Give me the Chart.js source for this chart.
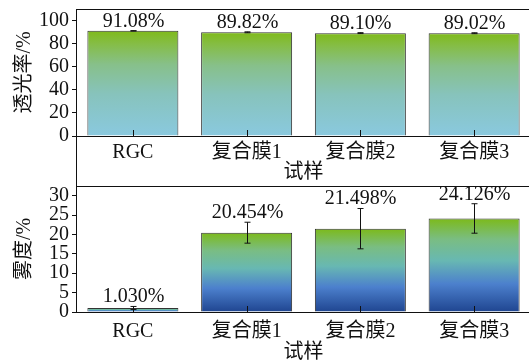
<!DOCTYPE html>
<html>
<head>
<meta charset="utf-8">
<script src="https://cdn.jsdelivr.net/npm/chart.js@4.4.1/dist/chart.umd.min.js"></script>
<style>
  html, body { margin: 0; padding: 0; background: #fff; overflow: hidden; }
  #wrap { position: relative; width: 529px; height: 363px; overflow: hidden; }
  canvas { position: absolute; left: 0; }
  #transChart { top: 0; }
  #hazeChart { top: 186px; }
</style>
</head>
<body>
<div id="wrap">
  <canvas id="transChart" width="535" height="186"></canvas>
  <canvas id="hazeChart" width="535" height="180"></canvas>
</div>
<script>
const samples = ["RGC", "复合膜1", "复合膜2", "复合膜3"];
const transmittance = [91.08, 89.82, 89.10, 89.02];
const transErr = [0.15, 0.4, 0.4, 0.4];
const transTicks = [0, 20, 40, 60, 80, 100];
const haze = [1.030, 20.454, 21.498, 24.126];
const hazeErr = [0.4, 2.7, 5.2, 3.8];
const hazeTicks = [0, 5, 10, 15, 20, 25, 30];

const FONT = '"Liberation Serif", "Times New Roman", "Noto Sans CJK SC", serif';
const INK = "#111";
Chart.defaults.font.family = FONT;
Chart.defaults.font.size = 20;
Chart.defaults.color = INK;

// vertical gradient from the bar top down to the baseline
const barGradient = (stops) => (ctx) => {
  const chart = ctx.chart;
  if (ctx.type !== "data" || !chart.chartArea) return stops[stops.length - 1][1];
  const y = chart.scales.y;
  const g = chart.ctx.createLinearGradient(0, y.getPixelForValue(ctx.raw), 0, y.getPixelForValue(0));
  stops.forEach(([o, c]) => g.addColorStop(o, c));
  return g;
};

const transStops = [[0, "#7fba1a"], [0.12, "#85bd45"], [0.32, "#87c08a"], [0.6, "#87c3bc"], [1, "#8ac9df"]];
const hazeStops = [[0, "#7cba1a"], [0.22, "#7abd82"], [0.45, "#68b8b2"], [0.7, "#4c80cd"], [1, "#1f4590"]];

// box edges, inward category ticks, error bars and value labels
const panelDecor = {
  id: "panelDecor",
  afterDatasetsDraw(chart, args, opts) {
    const { ctx, chartArea: a, scales: { x, y } } = chart;
    ctx.save();
    ctx.strokeStyle = INK;
    ctx.lineWidth = 1;
    ctx.beginPath();
    ctx.moveTo(a.left, a.top + 0.5);
    ctx.lineTo(chart.width, a.top + 0.5);
    ctx.moveTo(a.left + 0.5, a.top);
    ctx.lineTo(a.left + 0.5, opts.leftTo || a.bottom);
    ctx.stroke();

    ctx.font = "20px " + FONT;
    ctx.fillStyle = INK;
    ctx.textAlign = "center";
    ctx.textBaseline = "alphabetic";
    chart.data.datasets[0].data.forEach((v, i) => {
      const cx = Math.round(x.getPixelForValue(i)) + 0.5;
      ctx.beginPath();
      ctx.moveTo(cx, a.bottom);
      ctx.lineTo(cx, a.bottom - 6);
      const e = opts.err[i];
      const yt = y.getPixelForValue(v + e);
      const yb = y.getPixelForValue(v - e);
      ctx.moveTo(cx, yt); ctx.lineTo(cx, yb);
      ctx.moveTo(cx - 3, yt); ctx.lineTo(cx + 3, yt);
      ctx.moveTo(cx - 3, yb); ctx.lineTo(cx + 3, yb);
      ctx.stroke();
      ctx.fillText(opts.labels[i], cx, yt - 4);
    });
    ctx.restore();
  },
};

const makePanel = (canvas, values, err, digits, yMax, yTicks, yTitle, stops, xHeight, padTop, tickPad, leftTo) =>
  new Chart(canvas, {
    type: "bar",
    data: {
      labels: samples,
      datasets: [{
        data: values,
        backgroundColor: barGradient(stops),
        borderColor: "#333",
        borderWidth: 1,
        barPercentage: 0.8,
        categoryPercentage: 1,
      }],
    },
    plugins: [panelDecor],
    options: {
      responsive: false,
      animation: false,
      layout: { padding: { top: padTop, right: 4, left: 0, bottom: 0 } },
      plugins: {
        legend: { display: false },
        tooltip: { enabled: false },
        panelDecor: { err, labels: values.map((v) => v.toFixed(digits) + "%"), leftTo },
      },
      scales: {
        x: {
          offset: true,
          grid: { display: false },
          border: { color: INK, width: 1 },
          ticks: { padding: tickPad, color: INK, autoSkip: false, maxRotation: 0 },
          afterFit: (s) => { s.height = xHeight; s.paddingLeft = 0; s.paddingRight = 0; },
          title: { display: true, text: "试样", color: INK, padding: { top: 0, bottom: 1 } },
        },
        y: {
          min: 0,
          max: yMax,
          ticks: { padding: 3, color: INK, autoSkip: false },
          afterBuildTicks: (s) => { s.ticks = yTicks.map((value) => ({ value })); },
          afterFit: (s) => { s.width = 76; s.paddingTop = 0; s.paddingBottom = 0; },
          grid: { drawOnChartArea: false, tickLength: 4, color: INK },
          border: { color: INK, width: 1 },
          title: { display: true, text: yTitle, color: INK, padding: { top: 13, bottom: 0 } },
        },
      },
    },
  });

makePanel(document.getElementById("transChart"), transmittance, transErr, 2, 110, transTicks, "透光率/%", transStops, 50, 9, -3, 186);
makePanel(document.getElementById("hazeChart"), haze, hazeErr, 3, 32.5, hazeTicks, "雾度/%", hazeStops, 54, 0, 0, 0);
</script>
</body>
</html>
